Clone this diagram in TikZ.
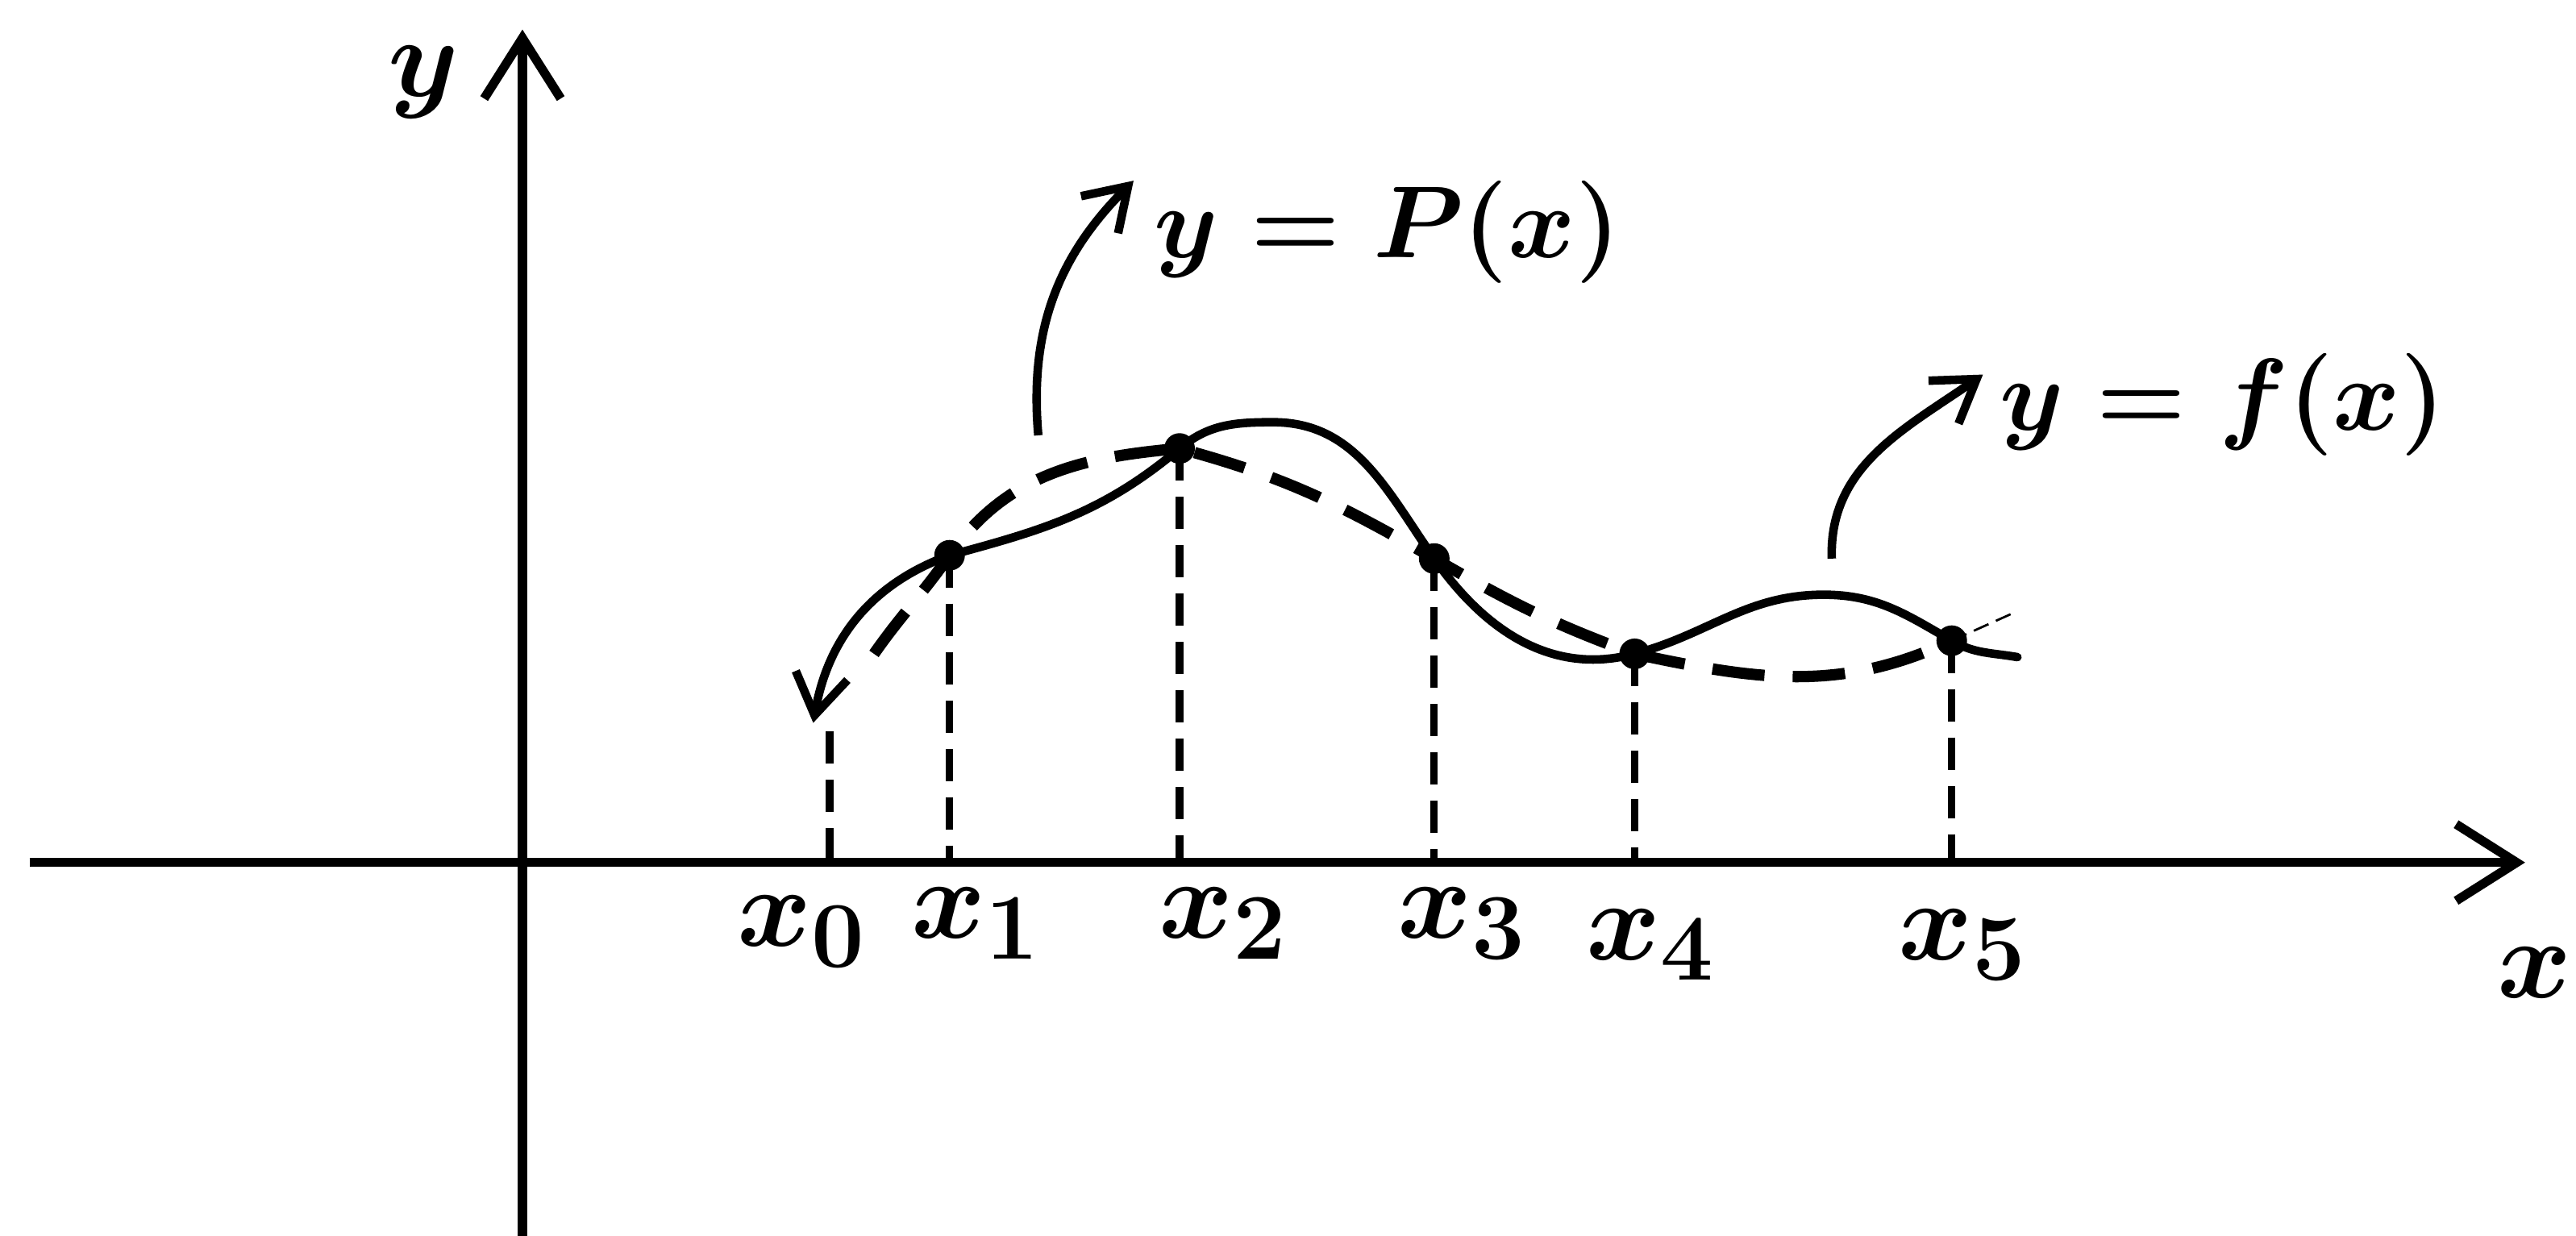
\documentclass[tikz,border=0pt]{standalone}
\usetikzlibrary{arrows.meta}
\begin{document}
\begin{tikzpicture}[x=0.020376cm,y=-0.020376cm,
  axisline/.style={line width=3.2pt,-{Straight Barb[length=0.75cm,width=0.95cm,line width=3.2pt]}},
  fcurve/.style={line width=3pt,line cap=round},
  pcurve/.style={line width=4pt,dash pattern=on 0.65cm off 0.35cm},
  vdash/.style={line width=2.6pt,dash pattern=on 0.4cm off 0.2cm},
  callout/.style={line width=3pt,-{Straight Barb[length=0.5cm,width=0.65cm,line width=3pt]}},
  dot/.style={circle,fill=black,inner sep=0pt,minimum size=0.38cm},
  lbl/.style={inner sep=0pt,font=\Huge\boldmath,scale=1.6},
  eqlbl/.style={inner sep=0pt,font=\Huge\boldmath,scale=1.45}]
\fill[white] (0,0) rectangle (1568,752);
\clip (0,0) rectangle (1568,752);
% axes
\coordinate (ybot) at (318,760);
\coordinate (ytop) at (318,18);
\coordinate (xleft) at (18,525);
\coordinate (xright) at (1537,525);
\draw[axisline] (ybot) -- (ytop);
\draw[axisline] (xleft) -- (xright);
\node[lbl] (ylab) at (258,50) {$y$};
\node[lbl,anchor=east] (xlab) at (1566,592) {$x$};
% axis feet
\foreach \i/\xx in {0/505,1/578,2/718,3/873,4/995,5/1188}{\coordinate (a\i) at (\xx,525);}
% interpolation points
\coordinate (q0) at (505,445);
\node[dot] (p1) at (578,338) {};
\node[dot] (p2) at (718,273) {};
\node[dot] (p3) at (873,340) {};
\node[dot] (p4) at (995,398) {};
\node[dot] (p5) at (1188,390) {};
% dashed verticals
\draw[vdash] (q0) -- (a0);
\foreach \i in {1,...,5}{\draw[vdash] (p\i.center) -- (a\i);}
% x labels
\node[lbl,anchor=north] (l0) at (488,545) {$x_0$};
\node[lbl,anchor=north] (l1) at (594,540) {$x_1$};
\node[lbl,anchor=north] (l2) at (745,540) {$x_2$};
\node[lbl,anchor=north] (l3) at (890,540) {$x_3$};
\node[lbl,anchor=north] (l4) at (1005,553) {$x_4$};
\node[lbl,anchor=north] (l5) at (1195,553) {$x_5$};
% solid curve f
\coordinate (f0) at (495,440);
\coordinate (fk) at (775,257);
\coordinate (fh) at (1110,362);
\coordinate (fe) at (1228,400);
\draw[fcurve,{Straight Barb[length=0.5cm,width=0.65cm,line width=3pt]}-]
  (f0) to[out=80,in=200] (p1.center)
  to[out=15,in=220] (p2.center)
  to[out=40,in=180] (fk)
  to[out=0,in=125] (p3.center)
  to[out=-55,in=195] (p4.center)
  to[out=15,in=180] (fh)
  to[out=0,in=150] (p5.center)
  to[out=-30,in=170] (fe);
% dashed curve P
\coordinate (ps) at (532,398);
\coordinate (pe) at (1228,372);
\draw[pcurve]
  (ps) to[out=55,in=235] (p1.center)
  to[out=55,in=185] (p2.center)
  to[out=-15,in=150] (p3.center)
  to[out=-30,in=160] (p4.center)
  to[out=-12,in=205] (p5.center);
\draw[line width=0.8pt,dash pattern=on 0.2cm off 0.1cm] (p5.center) -- (pe);
% callouts
\coordinate (c1s) at (632,265);
\coordinate (c1e) at (690,110);
\draw[callout] (c1s) to[out=95,in=225] (c1e);
\node[eqlbl,anchor=base west] (lp) at (702,157) {$y=P(x)$};
\coordinate (c2s) at (1115,340);
\coordinate (c2e) at (1207,228);
\draw[callout] (c2s) to[out=92,in=215] (c2e);
\node[eqlbl,anchor=base west] (lf) at (1217,262) {$y=f(x)$};
\end{tikzpicture}
\end{document}
